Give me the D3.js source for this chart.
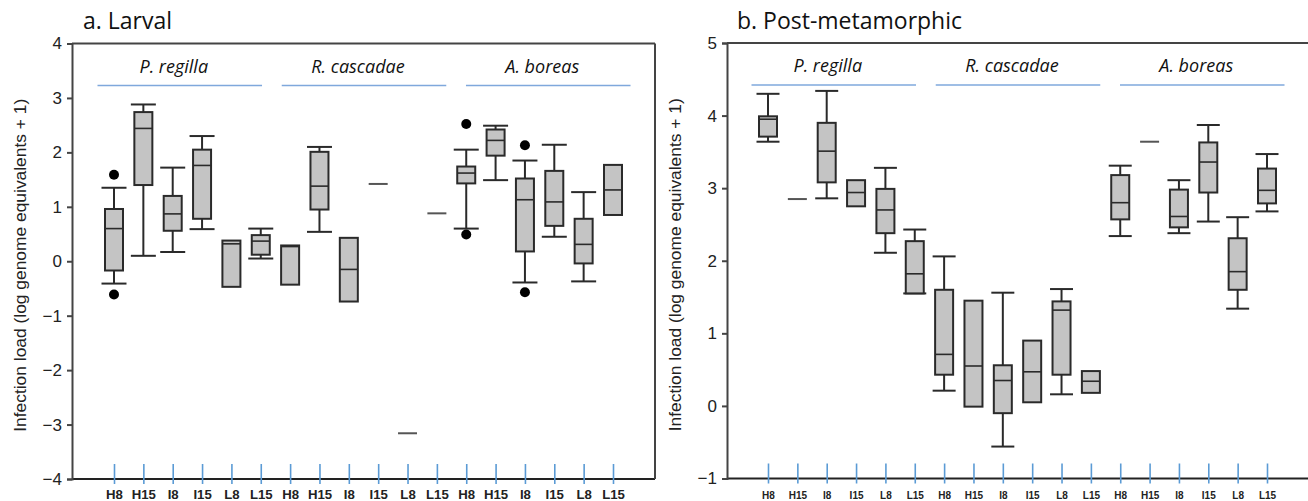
<!DOCTYPE html>
<html>
<head>
<meta charset="utf-8">
<script src="https://cdn.jsdelivr.net/npm/d3@7"></script>
<style>
  html, body { margin: 0; padding: 0; background: #fff; }
  svg { display: block; }
</style>
</head>
<body>
<svg id="chart" width="1308" height="501"></svg>
<script>
// ---------------- DATA ----------------
const categories = ["H8", "H15", "I8", "I15", "L8", "L15"];
const species = ["P. regilla", "R. cascadae", "A. boreas"];
const panelTitles = ["a. Larval", "b. Post-metamorphic"];
const yLabel = "Infection load (log genome equivalents + 1)";
const larvalTicks = [-4, -3, -2, -1, 0, 1, 2, 3, 4];
const postTicks = [-1, 0, 1, 2, 3, 4, 5];

// 18 groups in order: species x categories (null = not drawn)
const larvalLow    = [-0.41, 0.10, 0.17, 0.59, null, 0.05,   null, 0.54, null, null, null, null,   0.60, 1.49, -0.39, 0.45, -0.37, null];
const larvalQ1     = [-0.17, 1.40, 0.56, 0.78, -0.47, 0.12,  -0.43, 0.95, -0.74, null, null, null,  1.43, 1.94, 0.18, 0.65, -0.04, 0.85];
const larvalMedian = [0.60, 2.44, 0.87, 1.76, 0.32, 0.37,    0.27, 1.38, -0.15, 1.42, -3.16, 0.88,  1.62, 2.22, 1.13, 1.09, 0.31, 1.31];
const larvalQ3     = [0.96, 2.74, 1.20, 2.05, 0.38, 0.48,    0.29, 2.01, 0.43, null, null, null,    1.74, 2.42, 1.52, 1.66, 0.78, 1.77];
const larvalHigh   = [1.35, 2.88, 1.72, 2.30, null, 0.60,    null, 2.10, null, null, null, null,    2.05, 2.49, 1.85, 2.14, 1.27, null];
const larvalOutliers = [[1.59, -0.61], [], [], [], [], [],  [], [], [], [], [], [],  [2.52, 0.49], [], [2.13, -0.57], [], [], []];

const postLow    = [3.64, null, 2.86, null, 2.11, 1.55,   0.21, null, -0.56, null, 0.16, null,   2.34, null, 2.38, 2.54, 1.34, 2.68];
const postQ1     = [3.71, null, 3.08, 2.75, 2.38, 1.55,   0.43, -0.01, -0.10, 0.05, 0.43, 0.18,  2.57, null, 2.46, 2.94, 1.60, 2.79];
const postMedian = [3.95, 2.85, 3.51, 2.94, 2.70, 1.82,   0.71, 0.55, 0.35, 0.47, 1.32, 0.34,    2.80, 3.64, 2.61, 3.36, 1.85, 2.97];
const postQ3     = [3.99, null, 3.90, 3.11, 2.99, 2.27,   1.60, 1.45, 0.56, 0.90, 1.44, 0.48,    3.18, null, 2.98, 3.63, 2.31, 3.27];
const postHigh   = [4.30, null, 4.34, null, 3.28, 2.43,   2.06, null, 1.56, null, 1.61, null,    3.31, null, 3.11, 3.87, 2.60, 3.47];
const postOutliers = [[], [], [], [], [], [],  [], [], [], [], [], [],  [], [], [], [], [], []];

// ---------------- LAYOUT ----------------
const svg = d3.select("#chart");
const groupIds = [];
species.forEach(s => categories.forEach(c => groupIds.push(s + "|" + c)));

function buildGroups(low, q1, med, q3, high, outl) {
  return groupIds.map((id, i) => ({
    id, cat: id.split("|")[1],
    low: low[i], q1: q1[i], median: med[i], q3: q3[i], high: high[i], outliers: outl[i]
  }));
}

const panels = [
  {
    title: panelTitles[0], ticks: larvalTicks, domain: [-4, 4],
    groups: buildGroups(larvalLow, larvalQ1, larvalMedian, larvalQ3, larvalHigh, larvalOutliers),
    axisX: 72, top: 43.5, bottom: 479, right: 655, rightBorder: true,
    xFirst: 114, xLast: 613, titleX: 83, yLabelX: 20,
    catFont: 13.2, boxW: 18, capW: 25
  },
  {
    title: panelTitles[1], ticks: postTicks, domain: [-1, 5],
    groups: buildGroups(postLow, postQ1, postMedian, postQ3, postHigh, postOutliers),
    axisX: 727, top: 43, bottom: 478.5, right: 1308, rightBorder: false,
    xFirst: 768, xLast: 1267, titleX: 737, yLabelX: 675,
    catFont: 10, boxW: 18, capW: 23
  }
];

const AXIS = "#444", BOX = "#2a2a2a", FILL = "#c4c4c4", BLUE = "#5b9bd5", LINEBLUE = "#7fa8dc";

panels.forEach(p => {
  const g = svg.append("g");
  const x = d3.scalePoint().domain(groupIds).range([p.xFirst, p.xLast]);
  const y = d3.scaleLinear().domain(p.domain).range([p.bottom, p.top]);

  // title
  g.append("text").attr("x", p.titleX).attr("y", 28.5)
    .attr("font-family", "'Open Sans', 'Noto Sans', sans-serif").attr("font-size", 23)
    .attr("fill", "#111").text(p.title);

  // y label
  g.append("text")
    .attr("transform", `translate(${p.yLabelX},${(p.top + p.bottom) / 2 + 4}) rotate(-90)`)
    .attr("text-anchor", "middle").attr("dominant-baseline", "central")
    .attr("font-family", "'Liberation Sans', Arial, sans-serif").attr("font-size", 17.4)
    .attr("fill", "#222").text(yLabel);

  // frame lines
  g.append("line").attr("x1", p.axisX).attr("x2", p.right).attr("y1", p.top).attr("y2", p.top)
    .attr("stroke", AXIS).attr("stroke-width", 2);
  g.append("line").attr("x1", p.axisX).attr("x2", p.right).attr("y1", p.bottom).attr("y2", p.bottom)
    .attr("stroke", "#222").attr("stroke-width", 2);
  if (p.rightBorder) {
    g.append("line").attr("x1", p.right).attr("x2", p.right).attr("y1", p.top).attr("y2", p.bottom)
      .attr("stroke", AXIS).attr("stroke-width", 2);
  }

  // y axis
  const yAxis = d3.axisLeft(y).tickValues(p.ticks).tickSize(5).tickPadding(5).tickFormat(d3.format("d"));
  const ya = g.append("g").attr("transform", `translate(${p.axisX},0)`).call(yAxis);
  ya.select(".domain").attr("stroke", AXIS).attr("stroke-width", 2);
  ya.selectAll(".tick line").attr("stroke", AXIS).attr("stroke-width", 2);
  ya.selectAll(".tick text").attr("font-family", "'Liberation Sans', Arial, sans-serif")
    .attr("font-size", 17).attr("fill", "#222");

  // x axis: blue ticks + category labels
  const xAxis = d3.axisBottom(x).tickSize(0).tickPadding(0).tickFormat(d => d.split("|")[1]);
  const xa = g.append("g").attr("transform", `translate(0,${p.bottom})`).call(xAxis);
  xa.select(".domain").remove();
  xa.selectAll(".tick").append("line").attr("y1", -15).attr("y2", 5)
    .attr("stroke", BLUE).attr("stroke-width", 1.6);
  xa.selectAll(".tick text").attr("y", 20).attr("dy", null)
    .attr("font-family", "'Liberation Sans', Arial, sans-serif")
    .attr("font-weight", "bold").attr("font-size", p.catFont).attr("fill", "#222");

  // species labels and lines
  const sp = d3.scaleBand().domain(species).range([p.xFirst - 16.5, p.xLast + 17.5]).paddingInner(0.107).paddingOuter(0);
  species.forEach(s => {
    g.append("line").attr("x1", sp(s)).attr("x2", sp(s) + sp.bandwidth())
      .attr("y1", p.top + 42).attr("y2", p.top + 42)
      .attr("stroke", LINEBLUE).attr("stroke-width", 1.6);
    g.append("text").attr("x", sp(s) + sp.bandwidth() / 2 - 6).attr("y", p.top + 29)
      .attr("text-anchor", "middle").attr("font-style", "italic")
      .attr("font-family", "'Open Sans', 'Noto Sans', sans-serif").attr("font-size", 18)
      .attr("fill", "#111").text(s);
  });

  // boxes
  const bx = g.append("g");
  p.groups.forEach(d => {
    const cx = x(d.id);
    const hb = p.boxW / 2, hc = p.capW / 2;
    if (d.q1 == null && d.q3 == null) {
      bx.append("line").attr("x1", cx - 9.5).attr("x2", cx + 9.5)
        .attr("y1", y(d.median)).attr("y2", y(d.median))
        .attr("stroke", "#555").attr("stroke-width", 2);
      return;
    }
    if (d.high != null) {
      bx.append("line").attr("x1", cx).attr("x2", cx).attr("y1", y(d.high)).attr("y2", y(d.q3))
        .attr("stroke", BOX).attr("stroke-width", 2);
      bx.append("line").attr("x1", cx - hc).attr("x2", cx + hc).attr("y1", y(d.high)).attr("y2", y(d.high))
        .attr("stroke", BOX).attr("stroke-width", 2);
    }
    if (d.low != null) {
      bx.append("line").attr("x1", cx).attr("x2", cx).attr("y1", y(d.q1)).attr("y2", y(d.low))
        .attr("stroke", BOX).attr("stroke-width", 2);
      bx.append("line").attr("x1", cx - hc).attr("x2", cx + hc).attr("y1", y(d.low)).attr("y2", y(d.low))
        .attr("stroke", BOX).attr("stroke-width", 2);
    }
    bx.append("rect").attr("x", cx - hb).attr("width", p.boxW)
      .attr("y", y(d.q3)).attr("height", Math.max(1, y(d.q1) - y(d.q3)))
      .attr("fill", FILL).attr("stroke", BOX).attr("stroke-width", 2);
    bx.append("line").attr("x1", cx - hb).attr("x2", cx + hb)
      .attr("y1", y(d.median)).attr("y2", y(d.median))
      .attr("stroke", BOX).attr("stroke-width", 1.6);
    d.outliers.forEach(o => {
      bx.append("circle").attr("cx", cx).attr("cy", y(o)).attr("r", 5).attr("fill", "#000");
    });
  });
});
</script>
</body>
</html>
